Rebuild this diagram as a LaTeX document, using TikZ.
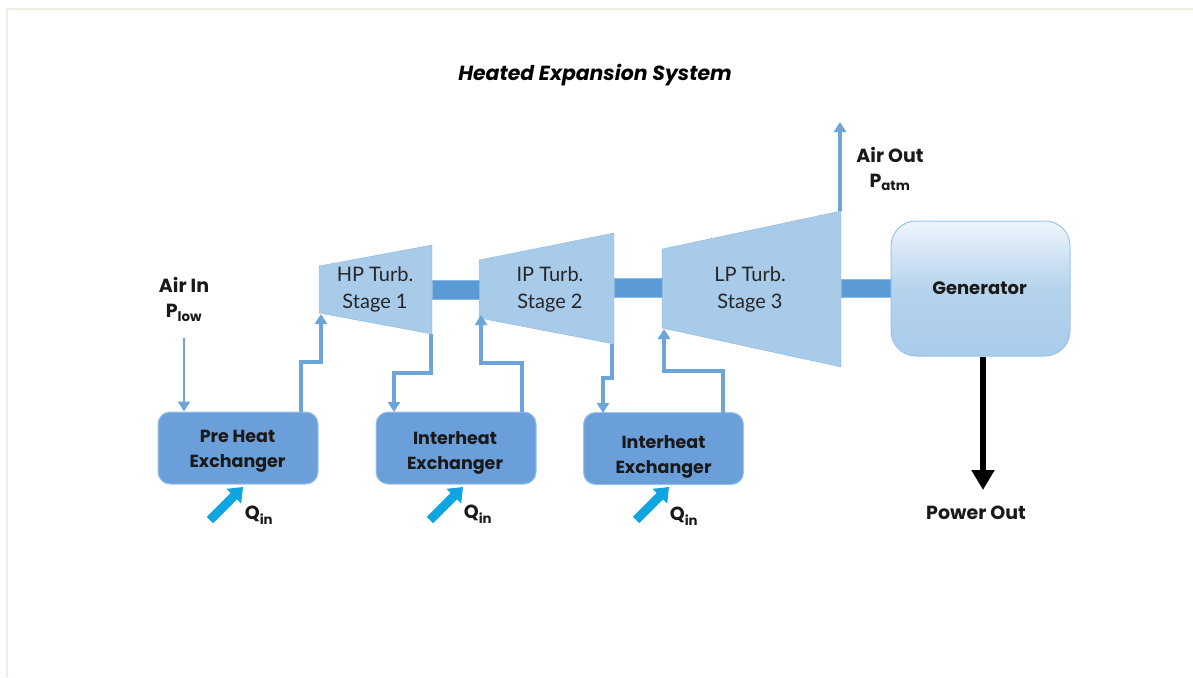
\documentclass[tikz,border=0pt]{standalone}
\usepackage{fontspec}
\setmainfont{Poppins}
\newfontfamily\turbfont{Lato}
\usetikzlibrary{arrows.meta}
\definecolor{flowblue}{HTML}{5B9BD5}
\definecolor{turbblue}{HTML}{A9CBEA}
\definecolor{exchblue}{HTML}{6A9FD9}
\definecolor{heatblue}{HTML}{0FA5E2}
\definecolor{framegrey}{HTML}{EFECE2}
\tikzset{
  turbine/.style={fill=turbblue,draw=flowblue,line width=0.4pt,dash pattern=on 1pt off 1pt},
  turblabel/.style={font=\turbfont\fontsize{20}{27}\selectfont,text=black!85,align=center},
  shaft/.style={fill=flowblue,draw=flowblue!70,line width=0.5pt},
  exchanger/.style={draw=flowblue!60,fill=exchblue,line width=1pt,rounded corners=12pt,minimum width=160pt,minimum height=72pt,inner sep=0pt},
  exchlabel/.style={font=\fontsize{17.5}{25}\selectfont\bfseries,text=black!90,align=center,inner sep=0pt},
  flow/.style={draw=flowblue!90,line width=3.3pt,-{Triangle[length=10pt,width=12pt]}},
  thinflow/.style={draw=flowblue!90,line width=2.4pt,-{Triangle[length=10pt,width=12pt]}},
  heat/.style={draw=heatblue,line width=9pt,-{Triangle[length=13pt,width=20pt]}},
  tag/.style={font=\fontsize{19}{25.5}\selectfont\bfseries,text=black!90,align=center,inner sep=0pt},
}
\begin{document}
\begin{tikzpicture}[x=1pt,y=-1pt]
  \useasboundingbox (0,0) rectangle (1193,677);
  \draw[framegrey,line width=2pt] (7,677)--(7,9.5)--(1193,9.5);
  \node[font=\fontsize{20.4}{24}\selectfont\bfseries\itshape,inner sep=0pt] (title) at (595,75) {Heated Expansion System};

  % turbines
  \draw[turbine] (319,266)--(432,245)--(432,334)--(319,313)--cycle;
  \draw[turbine] (479,260)--(614,233)--(614,344)--(479,318)--cycle;
  \draw[turbine] (662,249)--(841,211)--(841,367)--(662,328)--cycle;
  \node[turblabel] (hp) at (375,289) {HP Turb.\\Stage 1};
  \node[turblabel] (ip) at (550,289) {IP Turb.\\Stage 2};
  \node[turblabel] (lp) at (750,289) {LP Turb.\\Stage 3};
  \draw[shaft] (432,280) rectangle (479,299);
  \draw[shaft] (614,278) rectangle (662,297);
  \draw[shaft] (841,279) rectangle (891,297);

  \node[draw=flowblue!60,line width=1pt,rounded corners=25pt,minimum width=179pt,minimum height=135pt,inner sep=0pt,
    top color=white!80!turbblue,bottom color=turbblue,middle color=turbblue!85] (gen) at (980.5,288.5) {};
  \node[font=\fontsize{18}{25}\selectfont\bfseries,text=black!90,inner sep=0pt] (genlabel) at (979.5,288) {Generator};

  \node[exchanger] (pre) at (238,448) {};
  \node[exchanger] (int1) at (456,448) {};
  \node[exchanger] (int2) at (663.5,448.5) {};
  \node[exchlabel] (prelabel) at (237.5,451.5) {Pre Heat\\Exchanger};
  \node[exchlabel] (int1label) at (455,452.5) {Interheat\\Exchanger};
  \node[exchlabel] (int2label) at (663.5,456.5) {Interheat\\Exchanger};

  \node[tag] (airin) at (184,299.5) {Air In\\P\textsubscript{low}};
  \node[tag] (airout) at (890,169) {Air Out\\P\textsubscript{atm}};
  \node[tag] (power) at (976,513) {Power Out};
  \node[tag] (q1) at (259,515) {Q\textsubscript{in}};
  \node[tag] (q2) at (478,514) {Q\textsubscript{in}};
  \node[tag] (q3) at (684,516) {Q\textsubscript{in}};

  \coordinate (airtop) at (184,338);
  \coordinate (hpin) at (321,314);
  \coordinate (hpout) at (431,334);
  \coordinate (ipin) at (481,315);
  \coordinate (ipout) at (612,344);
  \coordinate (lpin) at (664,329);
  \coordinate (lpout) at (840,211);
  \coordinate (stack) at (840,122);
  \coordinate (q1a) at (210,520);
  \coordinate (q2a) at (430,520);
  \coordinate (q3a) at (636,520);

  \draw[thinflow] (airtop)--(airtop |- pre.north);
  \draw[flow] (301,412)--(301,362)--(321,362)--(hpin);
  \draw[flow] (hpout)--(431,373)--(394,373)--(394,412);
  \draw[flow] (522,412)--(522,363)--(481,363)--(ipin);
  \draw[flow] (ipout)--(612,378)--(603,378)--(603,413);
  \draw[flow] (723,413)--(723,371)--(664,371)--(lpin);
  \draw[flow] (lpout)--(stack);
  \draw[line width=6pt,-{Triangle[length=20pt,width=22pt]}] (gen.south -| 983,0)--(983,490);
  \draw[heat] (q1a)--(243,487);
  \draw[heat] (q2a)--(463,487);
  \draw[heat] (q3a)--(669,487);
\end{tikzpicture}
\end{document}
